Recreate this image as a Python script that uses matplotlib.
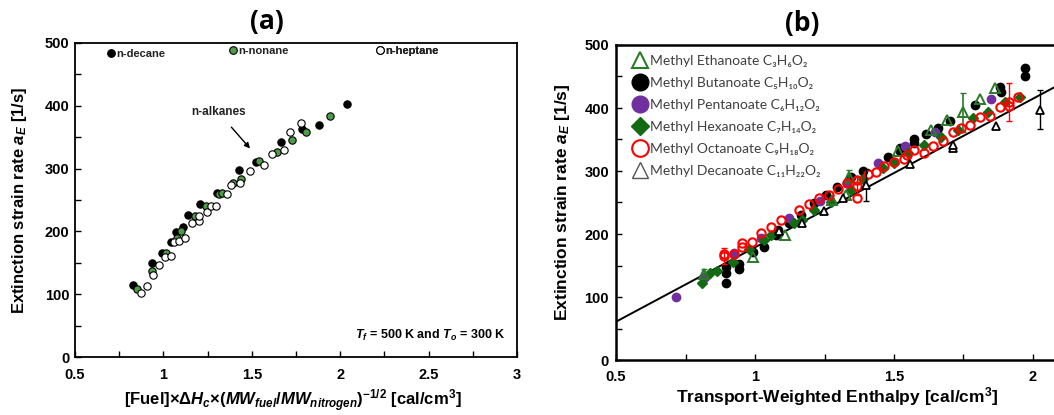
import numpy as np
import matplotlib
matplotlib.use('agg')
import matplotlib.pyplot as plt
from matplotlib.lines import Line2D
from matplotlib.ticker import MultipleLocator, FixedLocator

plt.rcParams['font.family'] = ['Liberation Sans', 'DejaVu Sans']
plt.rcParams['font.weight'] = 'bold'
plt.rcParams['mathtext.fontset'] = 'custom'
plt.rcParams['mathtext.rm'] = 'Liberation Sans:bold'
plt.rcParams['mathtext.it'] = 'Liberation Sans:italic:bold'
plt.rcParams['mathtext.bf'] = 'Liberation Sans:bold'

# ---- (a) n-alkanes ----
decane_x = [0.83, 0.935, 0.99, 1.045, 1.07, 1.11, 1.137, 1.208, 1.303, 1.426, 1.523, 1.663, 1.784, 1.88, 2.039]
decane_y = [115, 150, 166, 183, 199, 207, 226, 244, 261, 298, 310, 342, 363, 370, 403]
nonane_x = [0.852, 0.935, 1.012, 1.078, 1.1, 1.178, 1.24, 1.313, 1.334, 1.396, 1.44, 1.538, 1.642, 1.727, 1.808, 1.94]
nonane_y = [108, 137, 166, 190, 201, 224, 240, 260, 261, 277, 283, 312, 326, 345, 359, 384]
heptane_x = [0.876, 0.91, 0.943, 0.976, 1.008, 1.042, 1.062, 1.088, 1.12, 1.16, 1.2, 1.2, 1.248,
             1.268, 1.298, 1.358, 1.381, 1.432, 1.49, 1.57, 1.613, 1.68, 1.717, 1.778]
heptane_y = [102, 113, 131, 147, 159, 161, 183, 184, 189, 213, 216, 225, 231,
             240, 240, 260, 274, 277, 296, 305, 324, 329, 358, 372]

# ---- (b) methyl esters ----
ethanoate_x = [0.815, 0.994, 1.108, 1.278, 1.326, 1.338, 1.513, 1.633, 1.69, 1.75, 1.808, 1.862]
ethanoate_y = [137, 164, 198, 254, 262, 291, 331, 365, 381, 393, 415, 431]
ethanoate_err = [7, 0, 0, 0, 0, 10, 0, 0, 0, 31, 0, 0]
butanoate_x = [0.897, 0.897, 0.897, 0.941, 0.941, 0.993, 1.032, 1.074, 1.082, 1.122, 1.166, 1.212,
               1.254, 1.296, 1.345, 1.39, 1.477, 1.52, 1.522, 1.571, 1.571, 1.615, 1.657, 1.703,
               1.79, 1.883, 1.885, 1.973, 1.973]
butanoate_y = [122, 138, 148, 144, 153, 171, 180, 198, 206, 218, 230, 249,
               262, 274, 291, 300, 322, 331, 336, 344, 350, 359, 369, 380,
               405, 433, 426, 463, 451]
pentanoate_x = [0.717, 0.821, 0.923, 1.02, 1.122, 1.234, 1.33, 1.441, 1.539, 1.648, 1.85]
pentanoate_y = [100, 131, 170, 193, 225, 252, 281, 312, 339, 362, 415]
hexanoate_x = [0.809, 0.837, 0.863, 0.921, 0.978, 1.032, 1.056, 1.14, 1.17, 1.212, 1.272, 1.345,
               1.387, 1.459, 1.5, 1.549, 1.609, 1.669, 1.73, 1.784, 1.838, 1.898, 1.952]
hexanoate_y = [123, 138, 141, 156, 176, 190, 198, 218, 222, 238, 251, 270,
               287, 304, 312, 328, 341, 354, 365, 384, 394, 410, 418]
octanoate_x = [0.887, 0.887, 0.926, 0.953, 0.953, 0.99, 1.022, 1.058, 1.092, 1.158, 1.194, 1.23,
               1.266, 1.298, 1.33, 1.366, 1.366, 1.366, 1.405, 1.435, 1.465, 1.5, 1.536, 1.548,
               1.573, 1.609, 1.639, 1.675, 1.711, 1.741, 1.775, 1.811, 1.847, 1.88, 1.912, 1.912, 1.946]
octanoate_y = [165, 169, 169, 179, 185, 187, 202, 211, 222, 238, 248, 257,
               262, 272, 281, 285, 257, 276, 295, 299, 308, 315, 319, 325,
               333, 329, 340, 348, 362, 369, 373, 385, 388, 401, 410, 403, 418]
octanoate_err = [12, 0, 0, 0, 0, 0, 0, 0, 0, 0, 0, 0,
                 0, 0, 0, 0, 0, 14, 0, 0, 0, 0, 0, 0,
                 0, 0, 0, 0, 0, 0, 0, 0, 0, 0, 30, 0, 0]
decanoate_x = [1.086, 1.17, 1.248, 1.318, 1.399, 1.559, 1.711, 1.711, 1.868, 2.024]
decanoate_y = [205, 218, 237, 257, 278, 311, 336, 341, 371, 397]
decanoate_err = [0, 0, 0, 0, 25, 0, 0, 0, 0, 31]
fit_slope = 236.0
fit_intercept = -57.2

W, H = 1054, 415
fig = plt.figure(figsize=(W / 100, H / 100), dpi=100)


def style_axes(ax, lw, xpad, ypad):
    for s in ax.spines.values():
        s.set_linewidth(lw)
    ax.yaxis.set_major_locator(MultipleLocator(100))
    ax.yaxis.set_minor_locator(MultipleLocator(50))
    ax.tick_params(which='both', direction='in', top=False, right=False, length=4, width=1)
    ax.tick_params(axis='x', labelsize=10.5, pad=xpad)
    ax.tick_params(axis='y', labelsize=10.5, pad=ypad)
    ax.xaxis.set_major_formatter(plt.FuncFormatter(lambda v, p: f'{v:g}'))


# ---------------- panel (a) ----------------
ax1 = fig.add_axes([75 / W, 1 - 357 / H, 442 / W, 314 / H])
ax1.set_xlim(0.5, 3)
ax1.set_ylim(0, 500)
ax1.xaxis.set_major_locator(MultipleLocator(0.5))
ax1.xaxis.set_minor_locator(MultipleLocator(0.25))
style_axes(ax1, 1.3, 8, 4)

green_a = '#4e9c47'
ax1.scatter(decane_x, decane_y, s=28, c='black', edgecolors='black', linewidths=0.8, zorder=3)
ax1.scatter(nonane_x, nonane_y, s=28, c=green_a, edgecolors='black', linewidths=0.8, zorder=4)
ax1.scatter(heptane_x, heptane_y, s=28, c='white', edgecolors='black', linewidths=0.8, zorder=5)

# separate little keys along the top
keys = [('n-decane', 'black', 0.073, 0.965), ('n-nonane', green_a, 0.349, 0.975),
        ('n-heptane', 'white', 0.682, 0.975)]
for name, fc, kx, ky in keys:
    h = Line2D([], [], ls='none', marker='o', ms=5.5, mfc=fc, mec='black', mew=0.8)
    lg = ax1.legend([h], [name], loc='center left', bbox_to_anchor=(kx, ky), frameon=False,
                    borderpad=0, borderaxespad=0, handlelength=0.6, handletextpad=0.2,
                    prop={'size': 8, 'weight': 'bold'})
    for t in lg.get_texts():
        t.set_color('#222222')
    ax1.add_artist(lg)

ax1.annotate('n-alkanes', xy=(1.49, 332), xytext=(1.31, 390), fontsize=8.5, ha='center',
             va='center', color='#222222',
             arrowprops=dict(arrowstyle='-|>', color='black', lw=1, shrinkA=6, shrinkB=0,
                             mutation_scale=8))
ax1.text(0.975, 0.045, r'$T_f$ = 500 K and $T_o$ = 300 K', transform=ax1.transAxes,
         ha='right', va='bottom', fontsize=9)

fig.text(267 / W, 1 - 21 / H, '(a)', ha='center', va='center', fontsize=19,
         family=['Open Sans', 'DejaVu Sans'], weight='bold')
fig.text(20 / W, 1 - 200 / H, r'Extinction strain rate $a_E$ [1/s]', rotation=90,
         ha='center', va='center', fontsize=12)
fig.text(293 / W, 1 - 401 / H,
         r'[Fuel]$\times$$\Delta H_c$$\times$($MW_{fuel}$/$MW_{nitrogen}$)$^{\mathrm{-1/2}}$ [cal/cm$^{\mathrm{3}}$]',
         ha='center', va='center', fontsize=12)

# ---------------- panel (b) ----------------
ax2 = fig.add_axes([616 / W, 1 - 360 / H, 556 / W, 315 / H])
ax2.set_xlim(0.5, 2.5)
ax2.set_ylim(0, 500)
ax2.xaxis.set_major_locator(FixedLocator([0.5, 1.0, 1.5, 2.0]))
ax2.xaxis.set_minor_locator(FixedLocator([0.75, 1.25, 1.75, 2.25]))
style_axes(ax2, 1.8, 7, 5)

fx = np.array([0.5, 2.5])
ax2.plot(fx, fit_slope * fx + fit_intercept, color='black', lw=1.4, zorder=2)

eth_c = '#2a7a2a'
hex_c = '#126b12'
pur_c = '#7030a0'
ms = 6

def with_err(x, y, e):
    x, y, e = np.array(x), np.array(y), np.array(e)
    m = e > 0
    return x[m], y[m], e[m]

ax2.plot(butanoate_x, butanoate_y, ls='none', marker='o', ms=ms, mfc='black', mec='black', zorder=3)
ax2.plot(pentanoate_x, pentanoate_y, ls='none', marker='o', ms=ms, mfc=pur_c, mec=pur_c, zorder=4)
ax2.plot(hexanoate_x, hexanoate_y, ls='none', marker='D', ms=5.5, mfc=hex_c, mec=hex_c, zorder=4)
ex, ey, ee = with_err(ethanoate_x, ethanoate_y, ethanoate_err)
ax2.errorbar(ex, ey, yerr=ee, fmt='none', ecolor=eth_c, elinewidth=1.2, capsize=2, zorder=4)
ax2.plot(ethanoate_x, ethanoate_y, ls='none', marker='^', ms=ms + 0.5, mfc='none', mec=eth_c,
         mew=1.4, zorder=5)
ox, oy, oe = with_err(octanoate_x, octanoate_y, octanoate_err)
ax2.errorbar(ox, oy, yerr=oe, fmt='none', ecolor='red', elinewidth=1, capsize=2, zorder=5)
ax2.plot(octanoate_x, octanoate_y, ls='none', marker='o', ms=ms, mfc='none', mec='red',
         mew=1.5, zorder=6)
dx, dy, de = with_err(decanoate_x, decanoate_y, decanoate_err)
ax2.errorbar(dx, dy, yerr=de, fmt='none', ecolor='black', elinewidth=1, capsize=2, zorder=6)
ax2.plot(decanoate_x, decanoate_y, ls='none', marker='^', ms=ms, mfc='white', mec='black',
         mew=1.3, zorder=7)

names = ['Methyl Ethanoate C₃H₆O₂', 'Methyl Butanoate C₅H₁₀O₂', 'Methyl Pentanoate C₆H₁₂O₂',
         'Methyl Hexanoate C₇H₁₄O₂', 'Methyl Octanoate C₉H₁₈O₂', 'Methyl Decanoate C₁₁H₂₂O₂']
handles = [
    Line2D([], [], ls='none', marker='^', ms=12, mfc='none', mec=eth_c, mew=1.5),
    Line2D([], [], ls='none', marker='o', ms=12, mfc='black', mec='black'),
    Line2D([], [], ls='none', marker='o', ms=12, mfc=pur_c, mec=pur_c),
    Line2D([], [], ls='none', marker='D', ms=9, mfc=hex_c, mec=hex_c),
    Line2D([], [], ls='none', marker='o', ms=12, mfc='none', mec='red', mew=1.5),
    Line2D([], [], ls='none', marker='^', ms=12, mfc='none', mec='#555555', mew=1),
]
leg = ax2.legend(handles, names, loc='upper left', bbox_to_anchor=(0.03, 0.968), frameon=False,
                 borderpad=0, borderaxespad=0, handlelength=1.0, handletextpad=0.25,
                 labelspacing=0.72, prop={'family': ['Lato', 'DejaVu Sans'], 'size': 10,
                                          'weight': 'normal'})
for t in leg.get_texts():
    t.set_color('#404040')

fig.text(802 / W, 1 - 23 / H, '(b)', ha='center', va='center', fontsize=19,
         family=['Open Sans', 'DejaVu Sans'], weight='bold')
fig.text(563 / W, 1 - 202 / H, r'Extinction strain rate $a_E$ [1/s]', rotation=90,
         ha='center', va='center', fontsize=12.5)
fig.text(837 / W, 1 - 397 / H, r'Transport-Weighted Enthalpy [cal/cm$^{\mathrm{3}}$]',
         ha='center', va='center', fontsize=12.5)

fig.savefig('out.png', dpi=100)
